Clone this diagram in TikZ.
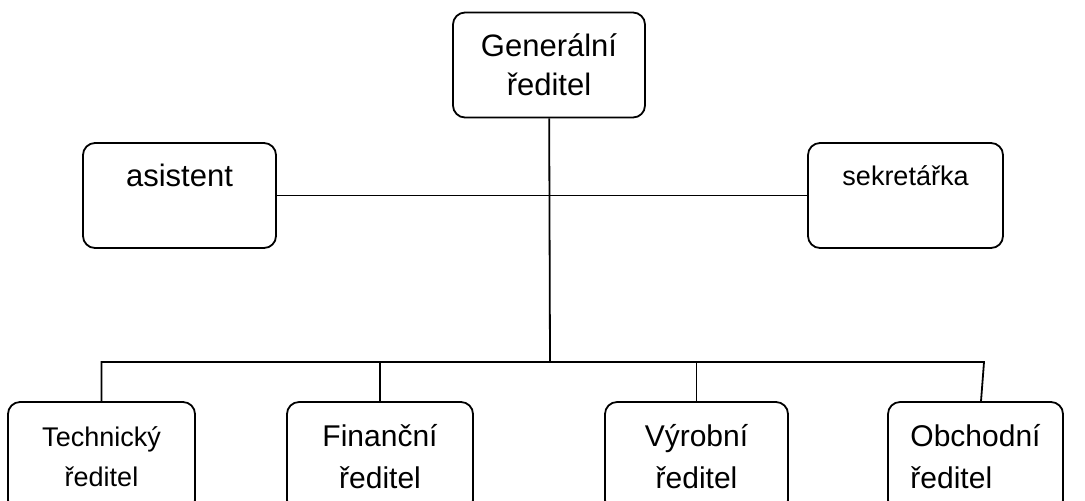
\documentclass[tikz,border=0pt]{standalone}
\usepackage{fontspec}
\setmainfont{Liberation Sans}
\usetikzlibrary{positioning}

\begin{document}
\begin{tikzpicture}[x=0.5pt,y=-0.5pt,
        box/.style={draw,rounded corners=6pt,line width=0.9pt,align=center,inner sep=0pt},
        big/.style={box,minimum width=96pt,minimum height=52.5pt},
        low/.style={box,minimum height=55pt,font=\fontsize{15}{21}\selectfont},
        link/.style={line width=0.9pt}]
        \clip (0,0) rectangle (1085,500);
        % vedeni
        \node[big,font=\fontsize{15.5}{19.5}\selectfont] (gen) at (549,65) {Generální\\ředitel};
        \node[big,minimum width=96.5pt,font=\fontsize{15.5}{20}\selectfont] (asist) at (179.5,195.5) {asistent\\~};
        \node[big,minimum width=97.5pt,font=\fontsize{13.5}{20}\selectfont] (sekr) at (905.5,195.5) {sekretářka\\~};
        % useky
        \node[low,minimum width=93.5pt,font=\fontsize{13.5}{20}\selectfont] (tech) at (101.5,457) {Technický\\ředitel};
        \node[low,minimum width=93pt] (fin) at (380,457) {Finanční\\ředitel};
        \node[low,minimum width=91.5pt] (vyr) at (696.5,457) {Výrobní\\ředitel};
        \node[low,minimum width=87.5pt,align=left] (obch) at (975.5,457) {Obchodní\\ředitel};
        \coordinate (bus) at (550,362);
        \coordinate (busend) at (984,362);
        \draw[link] (gen) -- (bus);
        \draw[link] (asist) -- (sekr);
        \draw[link] (tech.north) |- (busend) -- ([xshift=2.75pt]obch.north);
        \draw[link] (fin.north) -- (fin.north |- bus);
        \draw[link] (vyr.north) -- (vyr.north |- bus);
\end{tikzpicture}
\end{document}
